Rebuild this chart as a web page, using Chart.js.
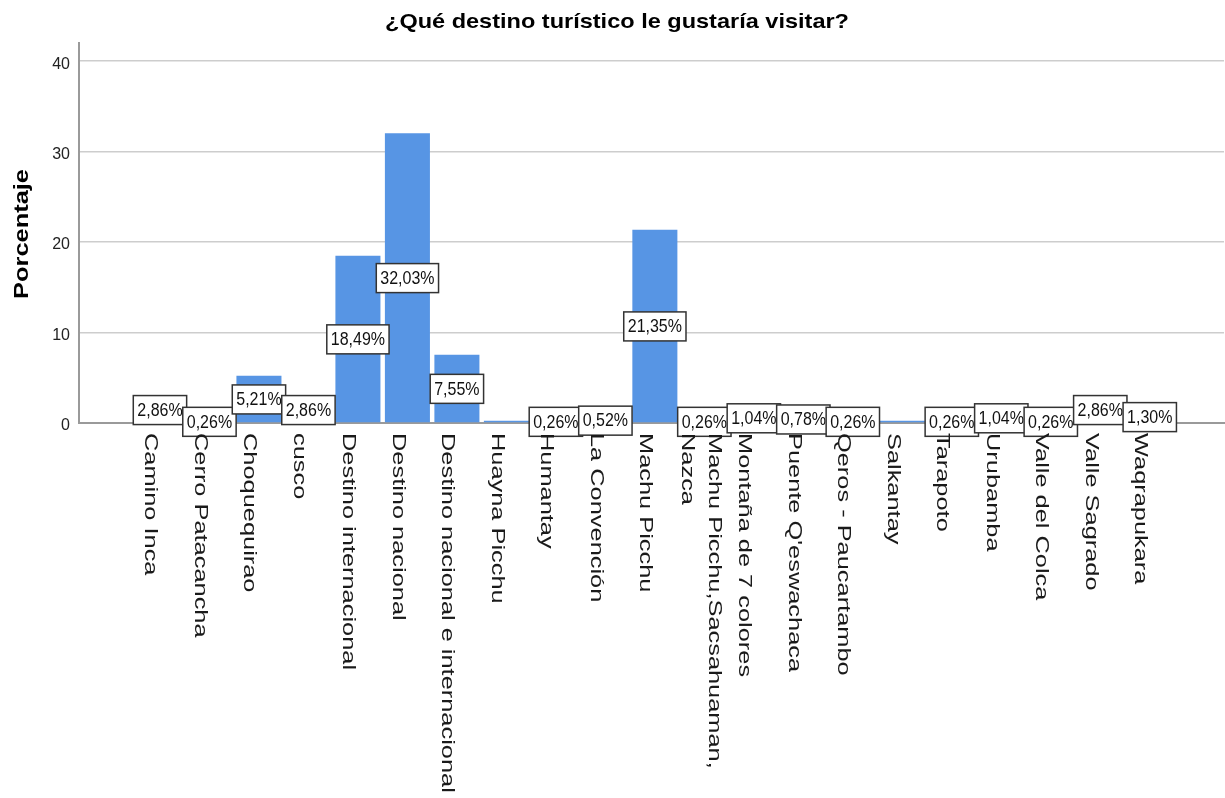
<!DOCTYPE html>
<html>
<head>
<meta charset="utf-8">
<script src="https://cdn.jsdelivr.net/npm/chart.js@4.4.1/dist/chart.umd.min.js"></script>
<style>
    html, body { margin: 0; padding: 0; background: #fff; }
    #chartBox { width: 1225px; height: 798px; }
</style>
</head>
<body>
<div id="chartBox"><canvas id="destinoChart" width="1225" height="798"></canvas></div>
<script>
// --- data ---
const chartTitle = '¿Qué destino turístico le gustaría visitar?';
const yAxisTitle = 'Porcentaje';

const destinos = [
    'Camino Inca', 'Cerro Patacancha', 'Choquequirao', 'cusco',
    'Destino internacional', 'Destino nacional', 'Destino nacional e internacional',
    'Huayna Picchu', 'Humantay', 'La Convención', 'Machu Picchu',
    ['Machu Picchu,Sacsahuaman,', 'Nazca'], 'Montaña de 7 colores', "Puente Q'eswachaca",
    'Qeros - Paucartambo', 'Salkantay', 'Tarapoto', 'Urubamba',
    'Valle del Colca', 'Valle Sagrado', 'Waqrapukara'
];
const porcentajes = [
    2.86, 0.26, 5.21, 2.86, 18.49, 32.03, 7.55, 0.26, 0.26, 0.52, 21.35,
    0.26, 1.04, 0.78, 0.26, 0.26, 0.26, 1.04, 0.26, 2.86, 1.30
];
// value boxes that are left off (bars too thin, boxes overlap)
const ocultarEtiqueta = [7, 15];
const yTicks = [0, 10, 20, 30, 40];

const BAR_COLOR = 'rgb(87, 149, 228)';
const FONT = '"Liberation Sans", Arial, sans-serif';

function fmtPct(v) {
    return v.toFixed(2).replace('.', ',') + '%';
}

// title, rotated axis title, category names and value boxes
const textPlugin = {
    id: 'spssText',
    afterDatasetsDraw(chart) {
        const ctx = chart.ctx;
        const yScale = chart.scales.y;
        const meta = chart.getDatasetMeta(0);

        // value boxes, centred half way up each bar
        ctx.save();
        ctx.font = '16px ' + FONT;
        ctx.textAlign = 'center';
        ctx.textBaseline = 'middle';
        meta.data.forEach((bar, i) => {
            if (ocultarEtiqueta.includes(i)) return;
            const txt = fmtPct(porcentajes[i]);
            const cy = yScale.getPixelForValue(porcentajes[i] / 2);
            const w = ctx.measureText(txt).width + 8;
            const h = 29;
            ctx.fillStyle = '#fff';
            ctx.fillRect(bar.x - w / 2, cy - h / 2, w, h);
            ctx.lineWidth = 1.5;
            ctx.strokeStyle = '#333';
            ctx.strokeRect(bar.x - w / 2, cy - h / 2, w, h);
            ctx.fillStyle = '#111';
            ctx.save();
            ctx.translate(bar.x, cy + 1);
            ctx.scale(1, 1.1);
            ctx.fillText(txt, 0, 0);
            ctx.restore();
        });
        ctx.restore();
    },
    afterDraw(chart) {
        const ctx = chart.ctx;
        const xScale = chart.scales.x;
        const area = chart.chartArea;

        // category names, rotated clockwise and stretched along the text
        ctx.save();
        ctx.font = '18px ' + FONT;
        ctx.fillStyle = '#1a1a1a';
        ctx.textAlign = 'left';
        ctx.textBaseline = 'alphabetic';
        destinos.forEach((name, i) => {
            const lines = Array.isArray(name) ? name : [name];
            const cx = xScale.getPixelForValue(i);
            lines.forEach((line, k) => {
                const bx = cx - 14.5 + (lines.length - 1) * 19 - k * 27;
                ctx.save();
                ctx.translate(bx, area.bottom + 10);
                ctx.rotate(Math.PI / 2);
                ctx.scale(1.41, 1);
                ctx.fillText(line, 0, 0);
                ctx.restore();
            });
        });
        ctx.restore();

        // y axis title
        ctx.save();
        ctx.font = 'bold 21px ' + FONT;
        ctx.fillStyle = '#000';
        ctx.textAlign = 'center';
        ctx.textBaseline = 'alphabetic';
        ctx.translate(28, (area.top + area.bottom) / 2 + 1);
        ctx.rotate(-Math.PI / 2);
        ctx.scale(1.21, 1);
        ctx.fillText(yAxisTitle, 0, 0);
        ctx.restore();

        // chart title
        ctx.save();
        ctx.font = 'bold 21px ' + FONT;
        ctx.fillStyle = '#000';
        ctx.textAlign = 'center';
        ctx.textBaseline = 'alphabetic';
        ctx.translate(617, 28);
        ctx.scale(1.12, 1);
        ctx.fillText(chartTitle, 0, 0);
        ctx.restore();
    }
};

const ctx = document.getElementById('destinoChart').getContext('2d');
new Chart(ctx, {
    type: 'bar',
    data: {
        datasets: [{
            label: yAxisTitle,
            data: porcentajes.map((v, i) => ({ x: i, y: v })),
            backgroundColor: BAR_COLOR,
            borderWidth: 0,
            barPercentage: 0.91,
            categoryPercentage: 1
        }]
    },
    options: {
        responsive: false,
        animation: false,
        layout: { padding: { top: 43, right: 1, left: 0, bottom: 0 } },
        plugins: {
            legend: { display: false },
            tooltip: { enabled: false },
            title: { display: false }
        },
        scales: {
            x: {
                type: 'linear',
                offset: false,
                min: -1.636,
                max: 21.5,
                grid: { display: false },
                border: { color: '#9a9a9a', width: 2 },
                ticks: { display: false },
                afterFit: (scale) => { scale.height = 798 - 423; }
            },
            y: {
                min: 0,
                max: 42,
                afterBuildTicks: (scale) => { scale.ticks = yTicks.map(v => ({ value: v })); },
                grid: { color: '#cdcdcd', lineWidth: 1.5, drawTicks: false },
                border: { color: '#9a9a9a', width: 2 },
                ticks: {
                    padding: 9,
                    color: '#222',
                    font: { family: FONT, size: 16 },
                    labelOffset: 3
                },
                afterFit: (scale) => { scale.width = 79; }
            }
        }
    },
    plugins: [textPlugin]
});
</script>
</body>
</html>
